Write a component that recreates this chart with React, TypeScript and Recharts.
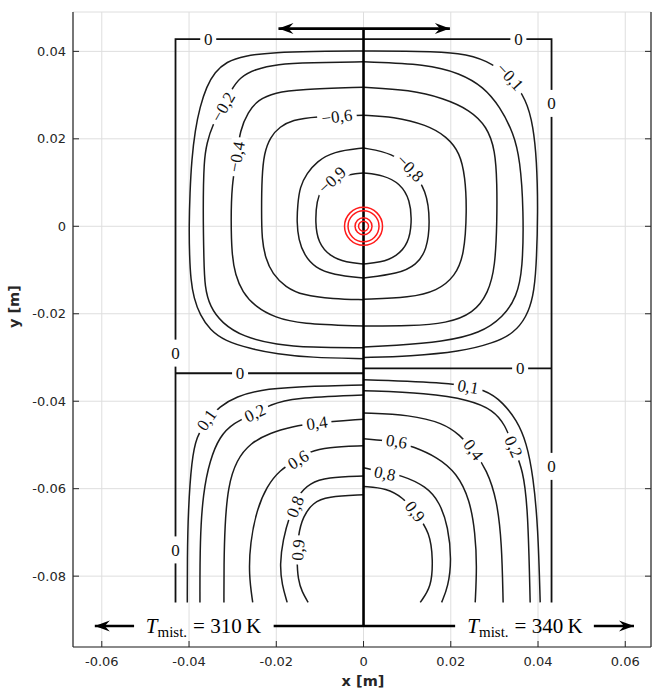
import React from 'react';
import { ComposedChart, Line, XAxis, YAxis, CartesianGrid, ReferenceDot, ReferenceLine } from 'recharts';

type Pt = { x: number; y: number };
const pts = (a: number[][]): Pt[] => a.map(([x, y]) => ({ x, y }));

// ---- axes ----
const xTicks = [-0.06, -0.04, -0.02, 0, 0.02, 0.04, 0.06];
const yTicks = [0.04, 0.02, 0, -0.02, -0.04, -0.06, -0.08];
const xDomain: [number, number] = [-0.0666, 0.0659];
const yDomain: [number, number] = [-0.0962, 0.049];

// ---- upper cell contours (levels -0.1 ... -0.9), left & right halves ----
const upM01Left = [[0,0.0401],[-0.0123,0.0400],[-0.0199,0.0398],[-0.0276,0.0390],[-0.0314,0.0376],[-0.0341,0.0353],[-0.0360,0.0319],[-0.0375,0.0273],[-0.0386,0.0220],[-0.0394,0.0152],[-0.0398,0.0076],[-0.0400,-0.0001],[-0.0399,-0.0066],[-0.0396,-0.0123],[-0.0389,-0.0164],[-0.0375,-0.0203],[-0.0352,-0.0237],[-0.0318,-0.0262],[-0.0260,-0.0280],[-0.0198,-0.0292],[-0.0123,-0.0300],[0,-0.0303]];
const upM01Right = [[0,0.0401],[0.0130,0.0400],[0.0221,0.0397],[0.0283,0.0380],[0.0336,0.0342],[0.0374,0.0289],[0.0389,0.0228],[0.0397,0.0152],[0.0400,0.0037],[0.0396,-0.0100],[0.0389,-0.0161],[0.0374,-0.0207],[0.0344,-0.0245],[0.0298,-0.0267],[0.0221,-0.0287],[0.0107,-0.0297],[0,-0.0300]];
const upM02Left = [[0,0.0376],[-0.0123,0.0374],[-0.0198,0.0371],[-0.0249,0.0359],[-0.0283,0.0341],[-0.0304,0.0311],[-0.0322,0.0273],[-0.0347,0.0231],[-0.0359,0.0190],[-0.0366,0.0152],[-0.0368,0.0037],[-0.0366,-0.0077],[-0.0364,-0.0139],[-0.0352,-0.0184],[-0.0325,-0.0221],[-0.0276,-0.0253],[-0.0198,-0.0271],[-0.0123,-0.0277],[0,-0.0278]];
const upM02Right = [[0,0.0376],[0.0145,0.0371],[0.0221,0.0350],[0.0275,0.0319],[0.0313,0.0273],[0.0344,0.0213],[0.0359,0.0152],[0.0367,0.0037],[0.0365,-0.0100],[0.0351,-0.0161],[0.0321,-0.0207],[0.0267,-0.0245],[0.0183,-0.0264],[0.0068,-0.0273],[0,-0.0276]];
const upM04Left = [[0,0.0318],[-0.0146,0.0313],[-0.0203,0.0306],[-0.0242,0.0289],[-0.0265,0.0261],[-0.0283,0.0220],[-0.0291,0.0159],[-0.0302,0.0094],[-0.0304,0.0014],[-0.0302,-0.0065],[-0.0294,-0.0111],[-0.0278,-0.0150],[-0.0248,-0.0184],[-0.0202,-0.0209],[-0.0146,-0.0223],[0,-0.0228]];
const upM04Right = [[0,0.0318],[0.0107,0.0312],[0.0183,0.0293],[0.0244,0.0266],[0.0283,0.0228],[0.0302,0.0174],[0.0306,0.0098],[0.0306,0.0014],[0.0302,-0.0092],[0.0286,-0.0153],[0.0252,-0.0199],[0.0191,-0.0222],[0.0107,-0.0228],[0,-0.0228]];
const upM06Left = [[0,0.0254],[-0.0116,0.0251],[-0.0162,0.0243],[-0.0192,0.0228],[-0.0214,0.0204],[-0.0228,0.0167],[-0.0233,0.0113],[-0.0234,0.0037],[-0.0233,-0.0031],[-0.0225,-0.0072],[-0.0209,-0.0109],[-0.0179,-0.0139],[-0.0139,-0.0158],[-0.0070,-0.0166],[0,-0.0168]];
const upM06Right = [[0,0.0254],[0.0068,0.0251],[0.0145,0.0232],[0.0191,0.0205],[0.0221,0.0168],[0.0233,0.0113],[0.0237,0.0037],[0.0231,-0.0066],[0.0210,-0.0114],[0.0169,-0.0148],[0.0107,-0.0163],[0,-0.0167]];
const upM08Left = [[0,0.0179],[-0.0070,0.0171],[-0.0107,0.0148],[-0.0130,0.0121],[-0.0146,0.0090],[-0.0151,0.0049],[-0.0153,0.0010],[-0.0149,-0.0031],[-0.0136,-0.0066],[-0.0111,-0.0095],[-0.0070,-0.0111],[0,-0.0118]];
const upM08Right = [[0,0.0179],[0.0068,0.0167],[0.0107,0.0133],[0.0145,0.0083],[0.0153,0.0008],[0.0145,-0.0054],[0.0122,-0.0088],[0.0079,-0.0109],[0,-0.0118]];
const upM09Left = [[0,0.0122],[-0.0046,0.0117],[-0.0077,0.0104],[-0.0097,0.0083],[-0.0107,0.0060],[-0.0111,0.0008],[-0.0104,-0.0038],[-0.0077,-0.0069],[-0.0039,-0.0083],[0,-0.0086]];
const upM09Right = [[0,0.0122],[0.0045,0.0117],[0.0084,0.0098],[0.0107,0.0060],[0.0111,0.0008],[0.0103,-0.0039],[0.0076,-0.0069],[0.0038,-0.0083],[0,-0.0086]];

// ---- lower cell contours (levels 0.1 ... 0.9) ----
const lo01Left = [[0,-0.0363],[-0.0162,-0.0367],[-0.0237,-0.0374],[-0.0291,-0.0389],[-0.0330,-0.0412],[-0.0360,-0.0443],[-0.0383,-0.0481],[-0.0394,-0.0534],[-0.0402,-0.0649],[-0.0404,-0.0762],[-0.0404,-0.0860]];
const lo01Right = [[0,-0.0351],[0.0198,-0.0357],[0.0283,-0.0374],[0.0320,-0.0404],[0.0351,-0.0443],[0.0374,-0.0495],[0.0389,-0.0572],[0.0400,-0.0687],[0.0405,-0.0860]];
const lo02Left = [[0,-0.0386],[-0.0162,-0.0392],[-0.0214,-0.0408],[-0.0249,-0.0427],[-0.0299,-0.0450],[-0.0330,-0.0481],[-0.0352,-0.0534],[-0.0368,-0.0610],[-0.0375,-0.0717],[-0.0375,-0.0860]];
const lo02Right = [[0,-0.0376],[0.0145,-0.0381],[0.0244,-0.0397],[0.0297,-0.0420],[0.0325,-0.0454],[0.0343,-0.0504],[0.0366,-0.0557],[0.0377,-0.0649],[0.0382,-0.0860]];
const lo04Left = [[0,-0.0441],[-0.0116,-0.0450],[-0.0162,-0.0458],[-0.0214,-0.0472],[-0.0260,-0.0496],[-0.0291,-0.0534],[-0.0311,-0.0595],[-0.0318,-0.0687],[-0.0320,-0.0774],[-0.0320,-0.0860]];
const lo04Right = [[0,-0.0427],[0.0107,-0.0431],[0.0182,-0.0450],[0.0221,-0.0477],[0.0251,-0.0511],[0.0283,-0.0557],[0.0306,-0.0626],[0.0317,-0.0724],[0.0320,-0.0860]];
const lo06Left = [[0,-0.0502],[-0.0084,-0.0505],[-0.0123,-0.0515],[-0.0153,-0.0534],[-0.0192,-0.0557],[-0.0222,-0.0595],[-0.0245,-0.0649],[-0.0260,-0.0724],[-0.0263,-0.0797],[-0.0254,-0.0860]];
const lo06Right = [[0,-0.0486],[0.0076,-0.0492],[0.0114,-0.0504],[0.0168,-0.0527],[0.0214,-0.0564],[0.0244,-0.0626],[0.0256,-0.0701],[0.0260,-0.0778],[0.0256,-0.0860]];
const lo08Left = [[0,-0.0571],[-0.0084,-0.0574],[-0.0123,-0.0587],[-0.0150,-0.0614],[-0.0169,-0.0660],[-0.0185,-0.0717],[-0.0192,-0.0774],[-0.0187,-0.0820],[-0.0175,-0.0860]];
const lo08Right = [[0,-0.0552],[0.0049,-0.0564],[0.0084,-0.0568],[0.0145,-0.0595],[0.0175,-0.0632],[0.0194,-0.0687],[0.0202,-0.0763],[0.0194,-0.0824],[0.0179,-0.0860]];
const lo09Left = [[0,-0.0614],[-0.0084,-0.0618],[-0.0116,-0.0632],[-0.0139,-0.0664],[-0.0150,-0.0706],[-0.0153,-0.0763],[-0.0150,-0.0809],[-0.0141,-0.0836],[-0.0127,-0.0860]];
const lo09Right = [[0,-0.0595],[0.0053,-0.0599],[0.0091,-0.0621],[0.0118,-0.0652],[0.0153,-0.0701],[0.0159,-0.0763],[0.0156,-0.0824],[0.0130,-0.0860]];

// ---- zero contour ----
const zeroLeftOuter = [[0,0.0428],[-0.0431,0.0428],[-0.0431,-0.0860]];
const zeroLeftMid = [[-0.0431,-0.0336],[0,-0.0336]];
const zeroRightOuter = [[0,0.0428],[0.0431,0.0428],[0.0431,-0.0860]];
const zeroRightMid = [[0,-0.0325],[0.0431,-0.0325]];

// ---- contour labels ----
const curveLabels = [
  { x: -0.0322, y: 0.0273, t: '−0,2' },
  { x: -0.0291, y: 0.0159, t: '−0,4' },
  { x: -0.0061, y: 0.0251, t: '−0,6' },
  { x: -0.0072, y: 0.0106, t: '−0,9' },
  { x: 0.0336, y: 0.0342, t: '−0,1' },
  { x: 0.0107, y: 0.0133, t: '−0,8' },
  { x: -0.0360, y: -0.0443, t: '0,1' },
  { x: -0.0249, y: -0.0427, t: '0,2' },
  { x: -0.0107, y: -0.0450, t: '0,4' },
  { x: -0.0150, y: -0.0534, t: '0,6' },
  { x: -0.0157, y: -0.0641, t: '0,8' },
  { x: -0.0150, y: -0.0740, t: '0,9' },
  { x: 0.0240, y: -0.0367, t: '0,1' },
  { x: 0.0344, y: -0.0504, t: '0,2' },
  { x: 0.0252, y: -0.0511, t: '0,4' },
  { x: 0.0076, y: -0.0492, t: '0,6' },
  { x: 0.0049, y: -0.0565, t: '0,8' },
  { x: 0.0118, y: -0.0652, t: '0,9' },
];
const curveLabelAngles = [-60, -80, -7, -43, 47, 46, -55, -25, -8, -32, -68, -86, 10, 66, 53, 9, 11, 52];
const zeroLabelsOnHorizontal = [{ x: -0.0356, y: 0.0428 }, { x: 0.0355, y: 0.0428 }, { x: -0.0283, y: -0.0336 }, { x: 0.0359, y: -0.0325 }];
const zeroLabelsOnVertical = [{ x: 0.0431, y: 0.0281 }, { x: -0.0431, y: -0.029 }, { x: 0.0431, y: -0.0549 }, { x: -0.0431, y: -0.074 }];

// ---- annotations ----
const probe = { x: 0, y: 0 };
const centerLine = [{ x: 0, y: 0.0452 }, { x: 0, y: -0.0914 }];
const topArrow = [[-0.0195, 0.0452], [0.0198, 0.0452]];
const bottomBar = [[-0.0206, -0.0914], [0.021, -0.0914]];
const leftArrow = [[-0.0526, -0.0914], [-0.0616, -0.0914]];
const rightArrow = [[0.0528, -0.0914], [0.062, -0.0914]];
const arrowTips = [{ x: -0.0195, y: 0.0452, d: -1 }, { x: 0.0198, y: 0.0452, d: 1 }, { x: -0.0616, y: -0.0914, d: -1 }, { x: 0.062, y: -0.0914, d: 1 }];
const tempLabels = [{ x: -0.0367, y: -0.0914, t: '310' }, { x: 0.037, y: -0.0914, t: '340' }];

const contours = [upM01Left, upM01Right, upM02Left, upM02Right, upM04Left, upM04Right, upM06Left, upM06Right, upM08Left, upM08Right, upM09Left, upM09Right,
  lo01Left, lo01Right, lo02Left, lo02Right, lo04Left, lo04Right, lo06Left, lo06Right, lo08Left, lo08Right, lo09Left, lo09Right].map(pts);
const zeroLines = [zeroLeftOuter, zeroLeftMid, zeroRightOuter, zeroRightMid].map(pts);
const thickLines = [topArrow, bottomBar, leftArrow, rightArrow].map(pts);

const AX = '#262626';
const SERIF = "'Liberation Serif', 'DejaVu Serif', serif";
const SANS = "'DejaVu Sans', sans-serif";
const fmt = (v: number) => (v === 0 ? '0' : String(v));

const BottomTick = (p: any) => (
  <g>
    <line x1={p.x} x2={p.x} y1={p.y} y2={p.y - 6} stroke={AX} strokeWidth={1} />
    <text x={p.x} y={p.y + 19} textAnchor="middle" fontFamily={SANS} fontSize={13} fill={AX}>{fmt(p.payload.value)}</text>
  </g>
);
const TopTick = (p: any) => <line x1={p.x} x2={p.x} y1={p.y} y2={p.y + 6} stroke={AX} strokeWidth={1} />;
const LeftTick = (p: any) => (
  <g>
    <line x1={p.x} x2={p.x + 6} y1={p.y} y2={p.y} stroke={AX} strokeWidth={1} />
    <text x={p.x - 7} y={p.y + 4.5} textAnchor="end" fontFamily={SANS} fontSize={13} fill={AX}>{fmt(p.payload.value)}</text>
  </g>
);
const RightTick = (p: any) => <line x1={p.x} x2={p.x - 6} y1={p.y} y2={p.y} stroke={AX} strokeWidth={1} />;

function labelShape(cx: number, cy: number, t: string, a: number, w?: number, h?: number) {
  const fs = 17;
  const tw = [...t].reduce((s, c) => s + (c === ',' ? 0.25 : c === '−' ? 0.6 : 0.5), 0) * fs;
  const rw = w ?? tw + 8;
  const rh = h ?? 16;
  return (
    <g transform={`translate(${cx},${cy}) rotate(${a})`}>
      <rect x={-rw / 2} y={-rh / 2} width={rw} height={rh} fill="#fff" />
      <text x={0} y={0} dy="0.34em" textAnchor="middle" fontFamily={SERIF} fontSize={fs} fill="#111">{t}</text>
    </g>
  );
}

function arrowHead(cx: number, cy: number, d: number) {
  const L = 15, H = 5.5, N = 10;
  const p = [[0, 0], [-d * L, -H], [-d * N, 0], [-d * L, H]].map(([a, b]) => `${cx + a},${cy + b}`).join(' ');
  return <polygon points={p} fill="#000" />;
}

function tempText(cx: number, cy: number, t: string) {
  return (
    <text x={cx} y={cy + 7} textAnchor="middle" fontFamily={SERIF} fontSize={21} fill="#000">
      <tspan fontStyle="italic">T</tspan>
      <tspan fontSize={15} dy={4}>mist.</tspan>
      <tspan dy={-4} dx={6}>{'= ' + t + '\u2009K'}</tspan>
    </text>
  );
}

export default function App() {
  return (
    <div style={{ position: 'absolute', left: 0, top: 0, width: 652, height: 691 }}>
    <ComposedChart width={652} height={691} margin={{ top: 12, right: 0, bottom: 0, left: 0 }}>
      <CartesianGrid stroke="#dedede" strokeWidth={1} />
      <XAxis dataKey="x" type="number" domain={xDomain} ticks={xTicks} allowDataOverflow interval={0}
        height={44} tickLine={false} tickSize={0} tickMargin={0} tick={BottomTick} axisLine={{ stroke: AX, strokeWidth: 1.2 }}
        label={(p: any) => {
          const vb = p.viewBox || { x: 73, y: 647, width: 578 };
          return <text x={vb.x + vb.width / 2 + 1} y={vb.y + 39} textAnchor="middle" fontFamily={SANS} fontWeight="bold" fontSize={14.5} fill={AX}>x [m]</text>;
        }} />
      <XAxis xAxisId="top" orientation="top" type="number" domain={xDomain} ticks={xTicks} allowDataOverflow interval={0}
        height={0} tickLine={false} tickSize={0} tickMargin={0} tick={TopTick} axisLine={{ stroke: AX, strokeWidth: 1.2 }} />
      <YAxis dataKey="y" type="number" domain={yDomain} ticks={yTicks} allowDataOverflow interval={0}
        width={73} tickLine={false} tickSize={0} tickMargin={0} tick={LeftTick} axisLine={{ stroke: AX, strokeWidth: 1.2 }}
        label={(p: any) => {
          const vb = p.viewBox || { x: 0, y: 12, height: 635 };
          const cx = 19, cy = vb.y + vb.height * 0.464;
          return <text x={cx} y={cy} transform={`rotate(-90 ${cx} ${cy})`} textAnchor="middle" fontFamily={SANS} fontWeight="bold" fontSize={14.5} fill={AX}>y [m]</text>;
        }} />
      <YAxis yAxisId="right" orientation="right" type="number" domain={yDomain} ticks={yTicks} allowDataOverflow interval={0}
        width={1} tickLine={false} tickSize={0} tickMargin={0} tick={RightTick} axisLine={{ stroke: AX, strokeWidth: 1.2 }} />

      {contours.map((d, i) => (
        <Line key={'c' + i} data={d} dataKey="y" type="basis" stroke="#1c1c1c" strokeWidth={1.5} dot={false} activeDot={false} isAnimationActive={false} />
      ))}
      {zeroLines.map((d, i) => (
        <Line key={'z' + i} data={d} dataKey="y" type="linear" stroke="#111" strokeWidth={1.8} dot={false} activeDot={false} isAnimationActive={false} />
      ))}
      {thickLines.map((d, i) => (
        <Line key={'t' + i} data={d} dataKey="y" type="linear" stroke="#000" strokeWidth={2.6} dot={false} activeDot={false} isAnimationActive={false} />
      ))}

      {[19, 15.5, 8.5, 5].map((r) => (
        <ReferenceDot key={'r' + r} x={probe.x} y={probe.y} r={r} fill="none" stroke="#ff1a1a" strokeWidth={1.5} ifOverflow="visible" />
      ))}
      <ReferenceLine segment={centerLine} stroke="#000" strokeWidth={2.6} ifOverflow="visible" />

      {curveLabels.map((l, i) => (
        <ReferenceDot key={'l' + i} x={l.x} y={l.y} r={1} ifOverflow="visible" shape={(p: any) => labelShape(p.cx, p.cy, l.t, curveLabelAngles[i])} />
      ))}
      {zeroLabelsOnHorizontal.map((l, i) => (
        <ReferenceDot key={'zh' + i} x={l.x} y={l.y} r={1} ifOverflow="visible" shape={(p: any) => labelShape(p.cx, p.cy, '0', 0, 16, 12)} />
      ))}
      {zeroLabelsOnVertical.map((l, i) => (
        <ReferenceDot key={'zv' + i} x={l.x} y={l.y} r={1} ifOverflow="visible" shape={(p: any) => labelShape(p.cx, p.cy, '0', 0, 12, 27)} />
      ))}
      {arrowTips.map((a, i) => (
        <ReferenceDot key={'a' + i} x={a.x} y={a.y} r={1} ifOverflow="visible" shape={(p: any) => arrowHead(p.cx, p.cy, a.d)} />
      ))}
      {tempLabels.map((l, i) => (
        <ReferenceDot key={'T' + i} x={l.x} y={l.y} r={1} ifOverflow="visible" shape={(p: any) => tempText(p.cx, p.cy, l.t)} />
      ))}
    </ComposedChart>
    </div>
  );
}
